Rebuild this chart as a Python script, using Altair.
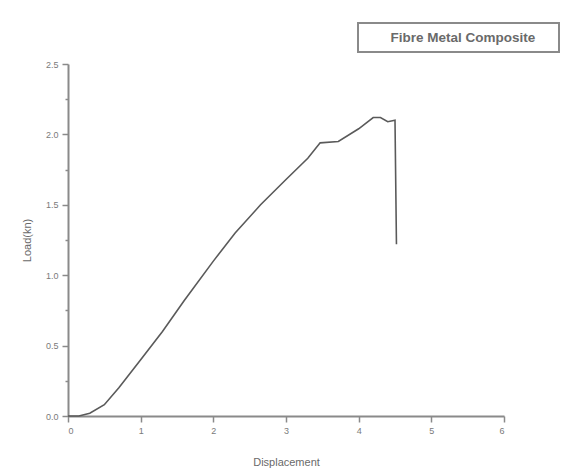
import altair as alt
import pandas as pd

displacement = [0.0, 0.15, 0.3, 0.5, 0.7, 1.0, 1.3, 1.6, 2.0, 2.3, 2.65, 3.0, 3.3, 3.47, 3.72, 4.0, 4.2, 4.3, 4.4, 4.5, 4.52]
load = [0.0, 0.0, 0.02, 0.08, 0.2, 0.4, 0.6, 0.82, 1.1, 1.3, 1.5, 1.68, 1.83, 1.94, 1.95, 2.04, 2.12, 2.12, 2.09, 2.1, 1.22]
series = "Fibre Metal Composite"

x_ticks = [i * 0.5 for i in range(13)]
y_ticks = [i * 0.25 for i in range(11)]

df = pd.DataFrame({"Displacement": displacement, "Load": load})
legend_df = pd.DataFrame({"label": [series]})

axis_common = dict(
    domainColor="#8a8a8a", domainWidth=2, tickColor="#8a8a8a", tickWidth=1.5,
    labelColor="#7a7a7a", labelFont="Liberation Sans", labelFontSize=9,
    titleFont="Liberation Sans", titleColor="#6a6a6a", titleFontSize=11, titleFontWeight="normal",
    grid=False,
)

line = alt.Chart(df).mark_line(strokeWidth=1.6, color="#5a5a5a").encode(
    x=alt.X("Displacement:Q", scale=alt.Scale(domain=[0, 6], nice=False, zero=True),
            axis=alt.Axis(title="Displacement", values=x_ticks,
                          labelExpr="datum.value % 1 == 0 ? datum.label : ''",
                          format="d", labelPadding=4,
                          tickSize={"condition": {"test": "datum.value % 1 == 0", "value": 6}, "value": 3},
                          titleY=40, **axis_common)),
    y=alt.Y("Load:Q", scale=alt.Scale(domain=[0, 2.5], nice=False),
            axis=alt.Axis(title="Load(kn)", values=y_ticks, format=".1f", labelPadding=4,
                          labelExpr="abs(round(datum.value*2) - datum.value*2) < 0.01 ? datum.label : ''",
                          tickSize={"condition": {"test": "abs(round(datum.value*2) - datum.value*2) < 0.01", "value": 6}, "value": 3},
                          titleX=-36, **axis_common)),
)

legend_box = alt.Chart(legend_df).mark_rect(fill="white", stroke="#8a8a8a", strokeWidth=2).encode(
    x=alt.value(290), x2=alt.value(491), y=alt.value(-41), y2=alt.value(-12),
)
legend_text = alt.Chart(legend_df).mark_text(
    font="Liberation Sans", fontSize=13.5, fontWeight="bold", color="#6a6a6a",
    align="center", baseline="middle",
).encode(x=alt.value(395), y=alt.value(-26), text="label:N")

chart = alt.layer(line, legend_box, legend_text).properties(
    width=436, height=352,
    padding={"left": 68, "top": 64, "right": 61, "bottom": 54},
    autosize=alt.AutoSizeParams(type="none"),
    background="white",
).configure_view(strokeWidth=0)

chart.save("out.html", embed_options={"renderer": "svg", "actions": False})
